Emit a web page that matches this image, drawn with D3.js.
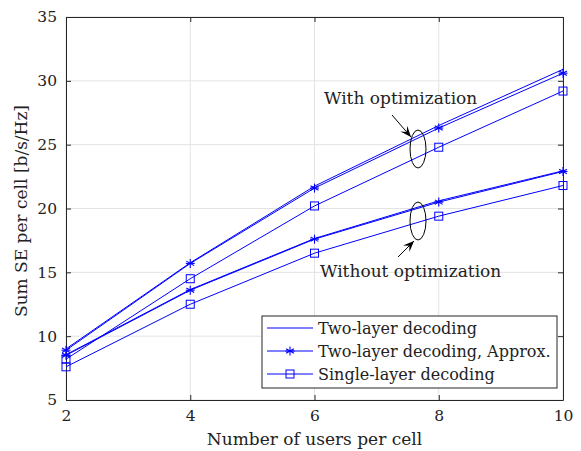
<!DOCTYPE html>
<html><head><meta charset="utf-8">
<script src="https://cdn.jsdelivr.net/npm/d3@7"></script>
<style>body{margin:0;background:#fff}svg{display:block}text{font-family:"DejaVu Serif","Liberation Serif",serif;fill:#222}</style>
</head><body><svg id="c" width="581" height="451"></svg>
<script>
const users = [2, 4, 6, 8, 10];
const xTicks = [2, 4, 6, 8, 10];
const yTicks = [5, 10, 15, 20, 25, 30, 35];
const twoLayerOpt    = [9.0, 15.75, 21.75, 26.5, 30.9];
const approxOpt      = [8.9, 15.7, 21.6, 26.3, 30.6];
const singleOpt      = [8.2, 14.5, 20.2, 24.8, 29.2];
const twoLayerNoOpt  = [8.55, 13.65, 17.65, 20.6, 22.95];
const approxNoOpt    = [8.5, 13.6, 17.6, 20.5, 22.9];
const singleNoOpt    = [7.6, 12.5, 16.5, 19.4, 21.8];
const legendLabels = ["Two-layer decoding", "Two-layer decoding, Approx.", "Single-layer decoding"];

const svg = d3.select("#c");
const L = 66, T = 17, R = 563, B = 400;
const x = d3.scaleLinear().domain([2, 10]).range([L, R]);
const y = d3.scaleLinear().domain([5, 35]).range([B, T]);
const blue = "#0000ff";

// grid
svg.append("g").selectAll("line").data(xTicks).join("line")
  .attr("x1", d => x(d)).attr("x2", d => x(d)).attr("y1", T).attr("y2", B)
  .attr("stroke", "#e3e3e3").attr("stroke-width", 1);
svg.append("g").selectAll("line").data(yTicks).join("line")
  .attr("y1", d => y(d)).attr("y2", d => y(d)).attr("x1", L).attr("x2", R)
  .attr("stroke", "#e3e3e3").attr("stroke-width", 1);

// axes
const ax = svg.append("g").attr("transform", `translate(0,${B})`)
  .call(d3.axisBottom(x).tickValues(xTicks).tickSizeInner(-5).tickSizeOuter(0).tickPadding(10));
const ay = svg.append("g").attr("transform", `translate(${L},0)`)
  .call(d3.axisLeft(y).tickValues(yTicks).tickSizeInner(-5).tickSizeOuter(0).tickPadding(9));
const at = svg.append("g").attr("transform", `translate(0,${T})`)
  .call(d3.axisTop(x).tickValues(xTicks).tickSizeInner(-5).tickSizeOuter(0).tickFormat(""));
const ar = svg.append("g").attr("transform", `translate(${R},0)`)
  .call(d3.axisRight(y).tickValues(yTicks).tickSizeInner(-5).tickSizeOuter(0).tickFormat(""));
[ax, ay, at, ar].forEach(g => {
  g.selectAll("path").attr("stroke", "#262626").attr("stroke-width", 1);
  g.selectAll("line").attr("stroke", "#262626");
  g.selectAll("text").attr("font-family", "DejaVu Serif").attr("font-size", 15.5).attr("fill", "#262626");
});

const line = d3.line().x((d, i) => x(users[i])).y(d => y(d));
const series = [
  {v: twoLayerOpt, m: null}, {v: approxOpt, m: "star"}, {v: singleOpt, m: "square"},
  {v: twoLayerNoOpt, m: null}, {v: approxNoOpt, m: "star"}, {v: singleNoOpt, m: "square"}
];
function drawMarker(g, m, cx, cy) {
  if (m === "star") {
    const r = 4.5;
    [0, 60, 120].forEach(a => {
      const rad = a * Math.PI / 180 + Math.PI / 2;
      g.append("line").attr("x1", cx - r * Math.cos(rad)).attr("y1", cy - r * Math.sin(rad))
        .attr("x2", cx + r * Math.cos(rad)).attr("y2", cy + r * Math.sin(rad))
        .attr("stroke", blue).attr("stroke-width", 1.1);
    });
    g.append("line").attr("x1", cx - r).attr("x2", cx + r).attr("y1", cy).attr("y2", cy)
      .attr("stroke", blue).attr("stroke-width", 1.1);
  } else if (m === "square") {
    g.append("rect").attr("x", cx - 4).attr("y", cy - 4).attr("width", 8).attr("height", 8)
      .attr("fill", "none").attr("stroke", blue).attr("stroke-width", 1);
  }
}
const sg = svg.append("g");
series.forEach(s => {
  sg.append("path").datum(s.v).attr("d", line).attr("fill", "none").attr("stroke", blue).attr("stroke-width", 1);
  s.v.forEach((d, i) => drawMarker(sg, s.m, x(users[i]), y(d)));
});

// annotations
function annot(text, tx, ty, ax1, ay1, ax2, ay2, ex, ey) {
  const g = svg.append("g");
  g.append("ellipse").attr("cx", ex).attr("cy", ey).attr("rx", 8).attr("ry", 19)
    .attr("fill", "none").attr("stroke", "#000").attr("stroke-width", 1);
  g.append("line").attr("x1", ax1).attr("y1", ay1).attr("x2", ax2).attr("y2", ay2)
    .attr("stroke", "#000").attr("stroke-width", 1);
  const ang = Math.atan2(ay2 - ay1, ax2 - ax1);
  const hl = 11, hw = 4.5;
  const bx = ax2 - hl * Math.cos(ang), by = ay2 - hl * Math.sin(ang);
  const px = -Math.sin(ang), py = Math.cos(ang);
  g.append("path").attr("d", `M${ax2},${ay2}L${bx + hw * px},${by + hw * py}L${ax2 - 0.6*hl*Math.cos(ang)},${ay2 - 0.6*hl*Math.sin(ang)}L${bx - hw * px},${by - hw * py}Z`)
    .attr("fill", "#000");
  g.append("text").attr("x", tx).attr("y", ty).attr("font-size", 17).attr("fill", "#000").text(text);
}
annot("With optimization", 324, 104, 392, 115, 411, 137, 418, 149);
annot("Without optimization", 320, 277, 398, 257, 414, 241, 418, 221);

// legend
const lg = svg.append("g");
lg.append("rect").attr("x", 262).attr("y", 316).attr("width", 295).attr("height", 72)
  .attr("fill", "#fff").attr("stroke", "#262626").attr("stroke-width", 1);
const markers = [null, "star", "square"];
legendLabels.forEach((lab, i) => {
  const yy = 328 + i * 23;
  lg.append("line").attr("x1", 267).attr("x2", 313).attr("y1", yy).attr("y2", yy).attr("stroke", blue).attr("stroke-width", 1);
  drawMarker(lg, markers[i], 290, yy);
  lg.append("text").attr("x", 318).attr("y", yy + 5.5).attr("font-size", 16).attr("fill", "#000").text(lab);
});

// axis titles
svg.append("text").attr("x", x(6)).attr("y", 445).attr("text-anchor", "middle").attr("font-size", 17).attr("fill", "#262626").text("Number of users per cell");
svg.append("text").attr("transform", `translate(27,211) rotate(-90)`).attr("text-anchor", "middle").attr("font-size", 17).attr("fill", "#262626").text("Sum SE per cell [b/s/Hz]");
</script></body></html>
